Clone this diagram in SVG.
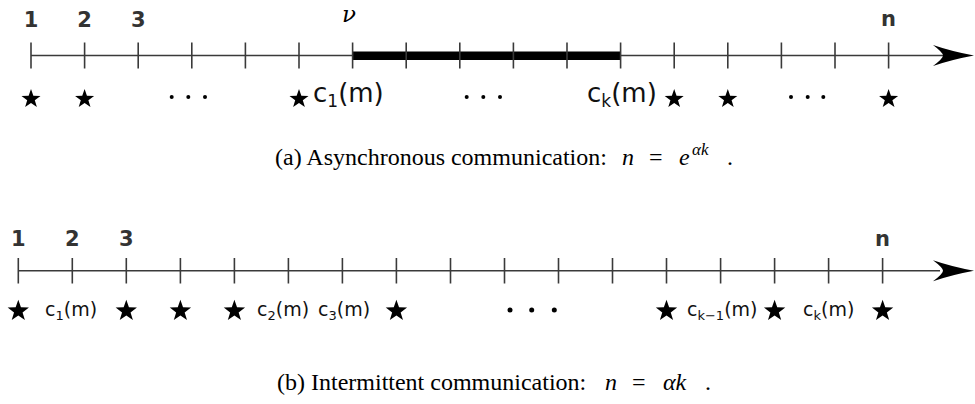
<svg xmlns="http://www.w3.org/2000/svg" xmlns:xlink="http://www.w3.org/1999/xlink" width="975" height="404" viewBox="0 0 975 404">
<style>
.axis{stroke:#3a3a3a;stroke-width:1.6;fill:none}
.tick{stroke:#3a3a3a;stroke-width:1.6}
.num{font-family:"DejaVu Sans",Verdana,sans-serif;font-weight:bold;fill:#333;font-size:21px}
.lbl{font-family:"DejaVu Sans",Verdana,sans-serif;fill:#111}
.cap{font-family:"Liberation Serif","Times New Roman",serif;font-size:24px;fill:#000}
.it{font-style:italic}
.dot{fill:#000}
</style>
<defs>
<polygon id="star" points="0,-10 2.35,-3.24 9.51,-3.09 3.8,1.24 5.88,8.09 0,4 -5.88,8.09 -3.8,1.24 -9.51,-3.09 -2.35,-3.24" fill="#000"/>
<path id="head" d="M0,0 Q-22,-4 -41,-10.5 Q-31,-3 -31,0 Q-31,3 -41,10.5 Q-22,4 0,0 Z" fill="#000"/>
</defs>

<g id="axis-a">
<line class="axis" x1="31" y1="55.5" x2="945" y2="55.5"/>
<use xlink:href="#head" x="974" y="55.5"/>
<rect x="352.6" y="51.5" width="268" height="8.5" fill="#000"/>
<g class="tick">
<line x1="31" y1="42.5" x2="31" y2="68.5"/>
<line x1="84.6" y1="42.5" x2="84.6" y2="68.5"/>
<line x1="138.2" y1="42.5" x2="138.2" y2="68.5"/>
<line x1="191.8" y1="42.5" x2="191.8" y2="68.5"/>
<line x1="245.4" y1="42.5" x2="245.4" y2="68.5"/>
<line x1="299" y1="42.5" x2="299" y2="68.5"/>
<line x1="352.6" y1="42.5" x2="352.6" y2="68.5"/>
<line x1="406.2" y1="42.5" x2="406.2" y2="68.5"/>
<line x1="459.8" y1="42.5" x2="459.8" y2="68.5"/>
<line x1="513.4" y1="42.5" x2="513.4" y2="68.5"/>
<line x1="567" y1="42.5" x2="567" y2="68.5"/>
<line x1="620.6" y1="42.5" x2="620.6" y2="68.5"/>
<line x1="674.2" y1="42.5" x2="674.2" y2="68.5"/>
<line x1="727.8" y1="42.5" x2="727.8" y2="68.5"/>
<line x1="781.4" y1="42.5" x2="781.4" y2="68.5"/>
<line x1="835" y1="42.5" x2="835" y2="68.5"/>
<line x1="888.6" y1="42.5" x2="888.6" y2="68.5"/>
</g>
</g>

<g id="labels-a">
<text class="num" x="31" y="27" text-anchor="middle">1</text>
<text class="num" x="84.6" y="27" text-anchor="middle">2</text>
<text class="num" x="138.2" y="27" text-anchor="middle">3</text>
<text class="num" x="888.6" y="26" text-anchor="middle">n</text>
<text x="349" y="22" font-family="'DejaVu Serif','Liberation Serif',serif" font-style="italic" font-size="23" text-anchor="middle">ν</text>
</g>

<g id="marks-a">
<use xlink:href="#star" x="31" y="99"/>
<use xlink:href="#star" x="84.6" y="99"/>
<use xlink:href="#star" x="299" y="99"/>
<use xlink:href="#star" x="674.2" y="99"/>
<use xlink:href="#star" x="727.8" y="99"/>
<use xlink:href="#star" x="888.6" y="99"/>
<circle class="dot" cx="171.7" cy="97" r="2"/>
<circle class="dot" cx="188.3" cy="97" r="2"/>
<circle class="dot" cx="205" cy="97" r="2"/>
<circle class="dot" cx="466.7" cy="97" r="2"/>
<circle class="dot" cx="483.3" cy="97" r="2"/>
<circle class="dot" cx="500" cy="97" r="2"/>
<circle class="dot" cx="791" cy="97" r="2"/>
<circle class="dot" cx="807.7" cy="97" r="2"/>
<circle class="dot" cx="823.3" cy="97" r="2"/>
<text class="lbl" font-size="26" x="313" y="102">c<tspan font-size="17" dy="5">1</tspan><tspan dy="-5">(m)</tspan></text>
<text class="lbl" font-size="26" x="587" y="102">c<tspan font-size="17" dy="5">k</tspan><tspan dy="-5">(m)</tspan></text>
</g>

<text id="caption-a" class="cap" x="275" y="165">(a) Asynchronous communication:<tspan class="it" x="622">n</tspan><tspan x="649">=</tspan><tspan class="it" x="679">e</tspan><tspan class="it" font-size="17" x="692" dy="-10">αk</tspan><tspan x="727" dy="10">.</tspan></text>

<g id="axis-b">
<line class="axis" x1="18.3" y1="270.7" x2="940" y2="270.7"/>
<use xlink:href="#head" x="974" y="270.7"/>
<g class="tick">
<line x1="18.3" y1="258" x2="18.3" y2="283.5"/>
<line x1="72.3" y1="258" x2="72.3" y2="283.5"/>
<line x1="126.3" y1="258" x2="126.3" y2="283.5"/>
<line x1="180.4" y1="258" x2="180.4" y2="283.5"/>
<line x1="234.4" y1="258" x2="234.4" y2="283.5"/>
<line x1="288.4" y1="258" x2="288.4" y2="283.5"/>
<line x1="342.4" y1="258" x2="342.4" y2="283.5"/>
<line x1="396.4" y1="258" x2="396.4" y2="283.5"/>
<line x1="450.5" y1="258" x2="450.5" y2="283.5"/>
<line x1="504.5" y1="258" x2="504.5" y2="283.5"/>
<line x1="558.5" y1="258" x2="558.5" y2="283.5"/>
<line x1="612.5" y1="258" x2="612.5" y2="283.5"/>
<line x1="666.5" y1="258" x2="666.5" y2="283.5"/>
<line x1="720.6" y1="258" x2="720.6" y2="283.5"/>
<line x1="774.6" y1="258" x2="774.6" y2="283.5"/>
<line x1="828.6" y1="258" x2="828.6" y2="283.5"/>
<line x1="882.6" y1="258" x2="882.6" y2="283.5"/>
</g>
</g>

<g id="labels-b">
<text class="num" x="18.3" y="246" text-anchor="middle">1</text>
<text class="num" x="72.3" y="246" text-anchor="middle">2</text>
<text class="num" x="126.3" y="246" text-anchor="middle">3</text>
<text class="num" x="882.6" y="246" text-anchor="middle">n</text>
</g>

<g id="marks-b">
<use xlink:href="#star" transform="translate(18.3,311) scale(1.12)"/>
<use xlink:href="#star" transform="translate(126.3,311) scale(1.12)"/>
<use xlink:href="#star" transform="translate(180.4,311) scale(1.12)"/>
<use xlink:href="#star" transform="translate(234.4,311) scale(1.12)"/>
<use xlink:href="#star" transform="translate(396.4,311) scale(1.12)"/>
<use xlink:href="#star" transform="translate(666.5,311) scale(1.12)"/>
<use xlink:href="#star" transform="translate(774.6,311) scale(1.12)"/>
<use xlink:href="#star" transform="translate(882.6,311) scale(1.12)"/>
<circle class="dot" cx="510" cy="310" r="2.5"/>
<circle class="dot" cx="531.7" cy="310" r="2.5"/>
<circle class="dot" cx="554.3" cy="310" r="2.5"/>
<text class="lbl" font-size="19" x="45" y="316">c<tspan font-size="13" dy="4">1</tspan><tspan dy="-4">(m)</tspan></text>
<text class="lbl" font-size="19" x="257" y="316">c<tspan font-size="13" dy="4">2</tspan><tspan dy="-4">(m)</tspan></text>
<text class="lbl" font-size="19" x="318" y="316">c<tspan font-size="13" dy="4">3</tspan><tspan dy="-4">(m)</tspan></text>
<text class="lbl" font-size="19" x="687" y="316">c<tspan font-size="13" dy="4">k−1</tspan><tspan dy="-4">(m)</tspan></text>
<text class="lbl" font-size="19" x="803" y="316">c<tspan font-size="13" dy="4">k</tspan><tspan dy="-4">(m)</tspan></text>
</g>

<text id="caption-b" class="cap" x="277" y="390">(b) Intermittent communication:<tspan class="it" x="605">n</tspan><tspan x="632">=</tspan><tspan class="it" x="663">αk</tspan><tspan x="705">.</tspan></text>
</svg>
